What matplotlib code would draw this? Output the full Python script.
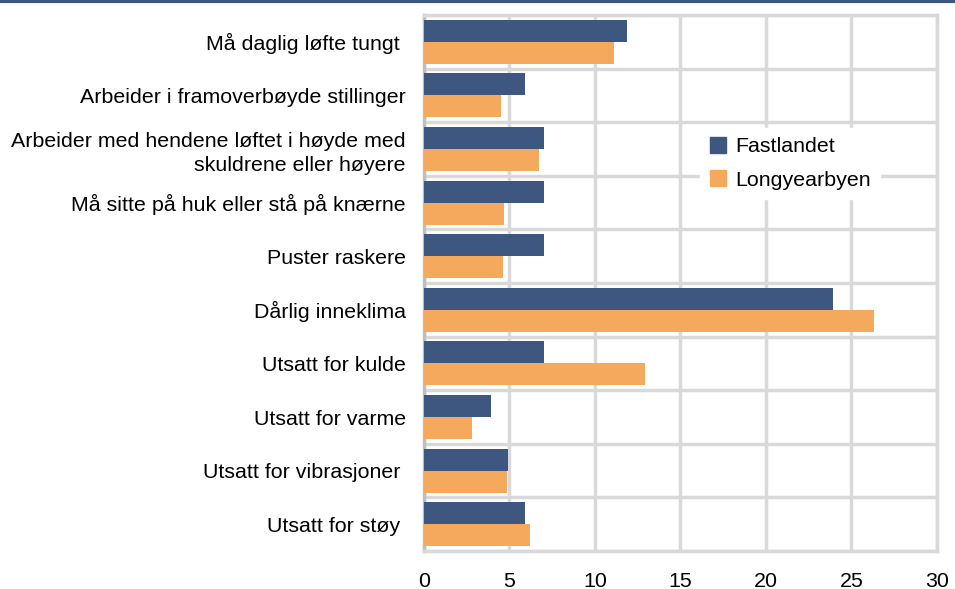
import numpy as np
import matplotlib.pyplot as plt
from matplotlib.patches import Patch

plt.rcParams['font.family'] = ['Liberation Sans', 'DejaVu Sans']

# categories top to bottom
categories = [
    "Må daglig løfte tungt ",
    "Arbeider i framoverbøyde stillinger",
    "Arbeider med hendene løftet i høyde med\nskuldrene eller høyere",
    "Må sitte på huk eller stå på knærne",
    "Puster raskere",
    "Dårlig inneklima",
    "Utsatt for kulde",
    "Utsatt for varme",
    "Utsatt for vibrasjoner ",
    "Utsatt for støy ",
]
fastlandet = [11.9, 5.9, 7.0, 7.0, 7.0, 23.9, 7.0, 3.9, 4.9, 5.9]
longyearbyen = [11.1, 4.5, 6.7, 4.7, 4.6, 26.3, 12.9, 2.8, 4.85, 6.2]
x_ticks = [0, 5, 10, 15, 20, 25, 30]

c_fast = '#3e5780'
c_long = '#f5a95c'
grid_c = '#d9d9d9'
fs = 15.4

fig = plt.figure(figsize=(9.55, 5.89), dpi=100)
ax = fig.add_axes([0.444, 0.0645, 0.537, 0.91])

y = np.arange(len(categories))
h = 0.41
ax.barh(y - h / 2, fastlandet, height=h, color=c_fast, zorder=3)
ax.barh(y + h / 2, longyearbyen, height=h, color=c_long, zorder=3)

ax.set_ylim(len(categories) - 0.5, -0.5)
ax.set_xlim(0, 30)
ax.set_xticks(x_ticks)
ax.set_yticks(y)
ax.set_yticklabels(categories, fontsize=fs, linespacing=1.35)
ax.set_yticks(np.arange(len(categories) + 1) - 0.5, minor=True)
ax.tick_params(axis='y', which='both', length=0, pad=13)
ax.tick_params(axis='x', length=0, pad=15, labelsize=fs)

ax.grid(axis='x', color=grid_c, linewidth=2.5, zorder=0)
ax.grid(axis='y', which='minor', color=grid_c, linewidth=2.5, zorder=0)
for s in ax.spines.values():
    s.set_color(grid_c)
    s.set_linewidth(2.5)
ax.spines['left'].set_color('#bfbfbf')

handles = [Patch(color=c_fast), Patch(color=c_long)]
leg = ax.legend(handles, ['Fastlandet', 'Longyearbyen'], loc='upper left',
                bbox_to_anchor=(0.538, 0.79), frameon=True, fontsize=fs,
                handlelength=0.75, handleheight=0.75, handletextpad=0.45,
                borderpad=0.45, labelspacing=0.65, borderaxespad=0)
leg.get_frame().set_edgecolor('white')
leg.get_frame().set_facecolor('white')
leg.get_frame().set_alpha(1)
leg.get_frame().set_boxstyle('square', pad=0.0)

# dark rule across the top
fig.add_artist(plt.Line2D([0, 1], [0.998, 0.998], color='#3e5780', linewidth=3,
                          transform=fig.transFigure))

fig.savefig('out.png', dpi=100)
